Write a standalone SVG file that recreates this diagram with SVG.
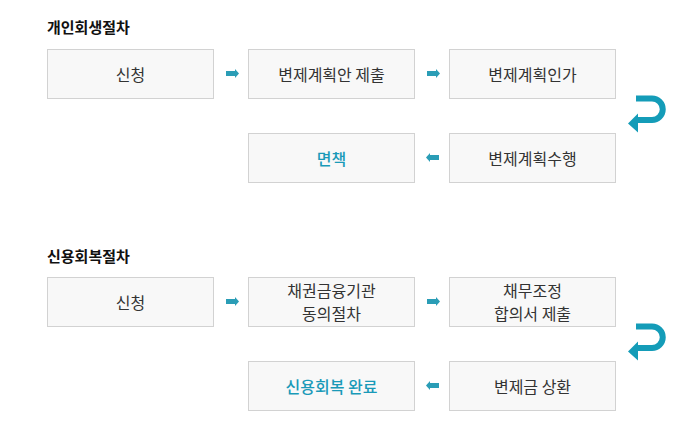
<svg xmlns="http://www.w3.org/2000/svg" width="679" height="439" viewBox="0 0 679 439">
<defs>
<style>
.bg{fill:#fff}
.box{fill:#f8f8f8;stroke:#d2d2d2;stroke-width:1}
.t{font-family:"Noto Sans CJK KR","Noto Sans",sans-serif;font-size:16px;fill:#333;text-anchor:middle;dominant-baseline:central}
.hl{fill:#1a9ab8;font-weight:500}
.title{font-family:"Noto Sans CJK KR","Noto Sans",sans-serif;font-size:15px;font-weight:bold;fill:#111;dominant-baseline:central}
.ar{fill:#2a9db6}
.u{fill:none;stroke:#149cb8;stroke-width:6}
.uh{fill:#149cb8}
</style>
<g id="arR"><rect x="0" y="-2.5" width="9" height="5"/><polygon points="9,-4.5 13,0 9,4.5"/></g>
<g id="arL"><rect x="4" y="-2.5" width="9" height="5"/><polygon points="4,-4.5 0,0 4,4.5"/></g>
<g id="uturn"><path class="u" d="M0,0 H16 A10.75,10.75 0 0 1 16,21.5 H1"/><polygon class="uh" points="-8,25 2,15 2,34"/></g>
</defs>
<rect class="bg" x="0" y="0" width="679" height="439"/>

<text class="title" x="47" y="26">개인회생절차</text>
<text class="title" x="47" y="255">신용회복절차</text>

<g id="n1"><rect class="box" x="47.5" y="49.5" width="166" height="49"/><text class="t" x="130.5" y="74">신청</text></g>
<g id="n2"><rect class="box" x="248.5" y="49.5" width="166" height="49"/><text class="t" x="331.5" y="74">변제계획안 제출</text></g>
<g id="n3"><rect class="box" x="449.5" y="49.5" width="166" height="49"/><text class="t" x="532.5" y="74">변제계획인가</text></g>
<g id="n4"><rect class="box" x="449.5" y="133.5" width="166" height="49"/><text class="t" x="532.5" y="158">변제계획수행</text></g>
<g id="n5"><rect class="box" x="248.5" y="133.5" width="166" height="49"/><text class="t hl" x="331.5" y="158">면책</text></g>

<g id="m1"><rect class="box" x="47.5" y="277.5" width="166" height="49"/><text class="t" x="130.5" y="302">신청</text></g>
<g id="m2"><rect class="box" x="248.5" y="277.5" width="166" height="49"/><text class="t" x="331.5" y="290">채권금융기관</text><text class="t" x="331.5" y="313">동의절차</text></g>
<g id="m3"><rect class="box" x="449.5" y="277.5" width="166" height="49"/><text class="t" x="532.5" y="290">채무조정</text><text class="t" x="532.5" y="313">합의서 제출</text></g>
<g id="m4"><rect class="box" x="449.5" y="361.5" width="166" height="49"/><text class="t" x="532.5" y="386">변제금 상환</text></g>
<g id="m5"><rect class="box" x="248.5" y="361.5" width="166" height="49"/><text class="t hl" x="331.5" y="386">신용회복 완료</text></g>

<g id="connectors" class="ar">
<use href="#arR" x="226" y="73.5"/>
<use href="#arR" x="427" y="73.5"/>
<use href="#arL" x="426" y="157.5"/>
<use href="#uturn" x="636" y="98.5"/>
<use href="#arR" x="226" y="301.5"/>
<use href="#arR" x="427" y="301.5"/>
<use href="#arL" x="426" y="385.5"/>
<use href="#uturn" x="636" y="326.5"/>
</g>
</svg>
